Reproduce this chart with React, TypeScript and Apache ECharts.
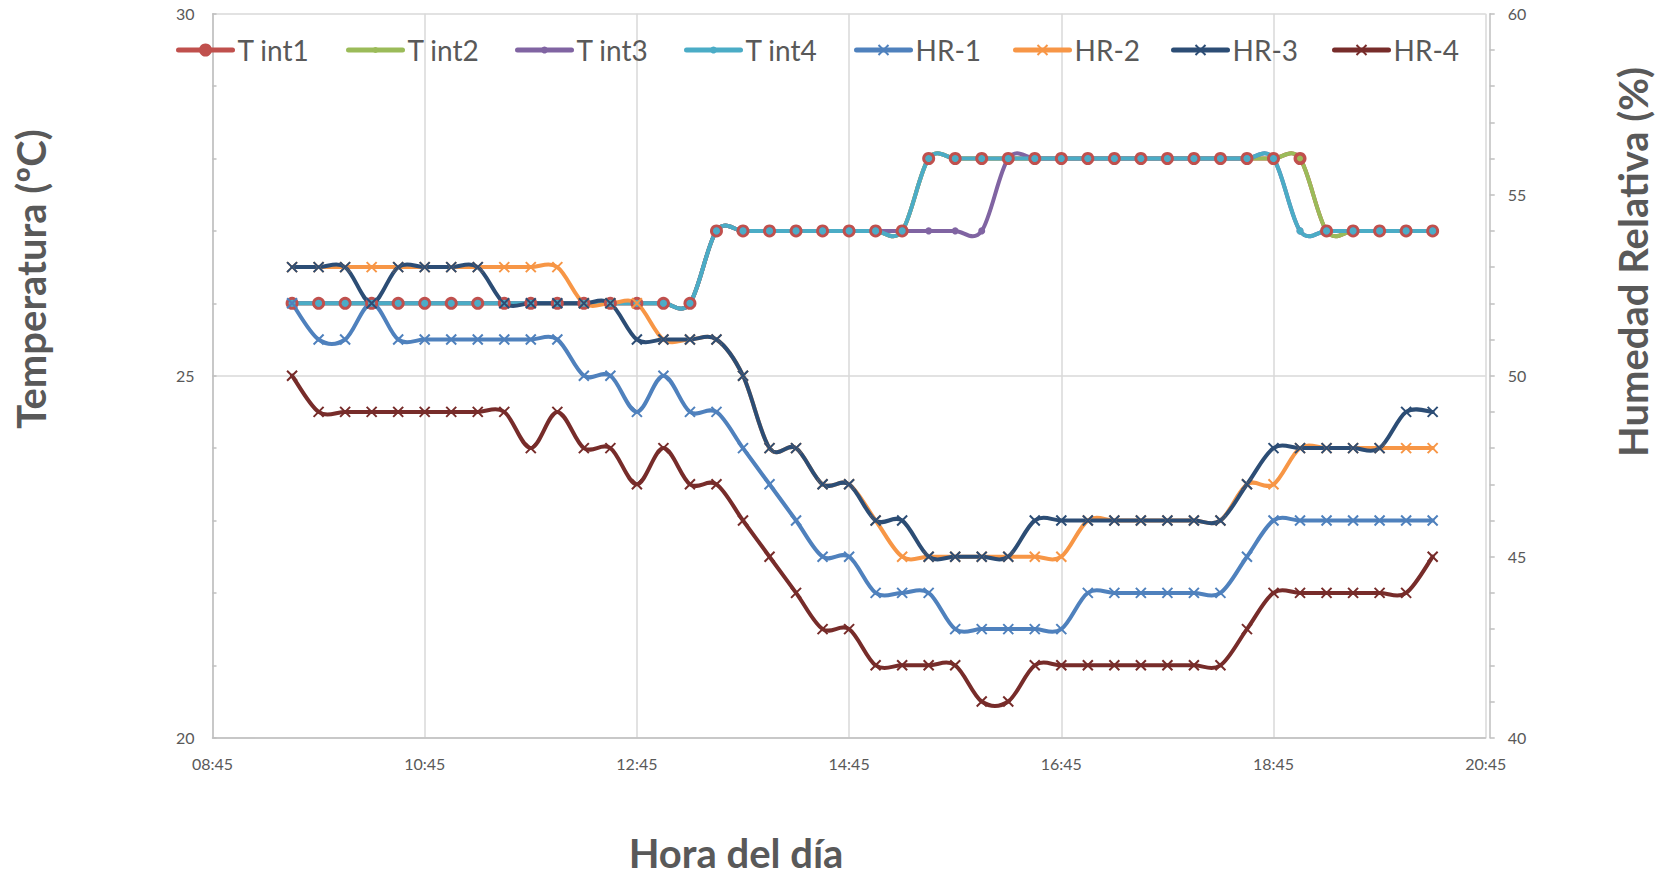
import { useEffect, useRef } from "react";
import * as echarts from "echarts";

// ---- data ----
const times = [
  "09:30", "09:45", "10:00", "10:15", "10:30", "10:45", "11:00", "11:15", "11:30", "11:45",
  "12:00", "12:15", "12:30", "12:45", "13:00", "13:15", "13:30", "13:45", "14:00", "14:15",
  "14:30", "14:45", "15:00", "15:15", "15:30", "15:45", "16:00", "16:15", "16:30", "16:45",
  "17:00", "17:15", "17:30", "17:45", "18:00", "18:15", "18:30", "18:45", "19:00", "19:15",
  "19:30", "19:45", "20:00", "20:15",
];

const tInt1 = [
  26, 26, 26, 26, 26, 26, 26, 26, 26, 26, 26, 26, 26, 26, 26, 26,
  27, 27, 27, 27, 27, 27, 27, 27,
  28, 28, 28, 28, 28, 28, 28, 28, 28, 28, 28, 28, 28, 28, 28,
  27, 27, 27, 27, 27,
];
const tInt2 = [
  26, 26, 26, 26, 26, 26, 26, 26, 26, 26, 26, 26, 26, 26, 26, 26,
  27, 27, 27, 27, 27, 27, 27, 27,
  28, 28, 28, 28, 28, 28, 28, 28, 28, 28, 28, 28, 28, 28, 28,
  27, 27, 27, 27, 27,
];
const tInt3 = [
  26, 26, 26, 26, 26, 26, 26, 26, 26, 26, 26, 26, 26, 26, 26, 26,
  27, 27, 27, 27, 27, 27, 27, 27, 27, 27, 27,
  28, 28, 28, 28, 28, 28, 28, 28, 28, 28, 28,
  27, 27, 27, 27, 27, 27,
];
const tInt4 = [
  26, 26, 26, 26, 26, 26, 26, 26, 26, 26, 26, 26, 26, 26, 26, 26,
  27, 27, 27, 27, 27, 27, 27, 27,
  28, 28, 28, 28, 28, 28, 28, 28, 28, 28, 28, 28, 28, 28,
  27, 27, 27, 27, 27, 27,
];

const hr1 = [
  52, 51, 51, 52, 51, 51, 51, 51, 51, 51, 51, 50, 50, 49, 50, 49, 49, 48, 47, 46,
  45, 45, 44, 44, 44, 43, 43, 43, 43, 43, 44, 44, 44, 44, 44, 44, 45, 46, 46, 46,
  46, 46, 46, 46,
];
const hr2 = [
  53, 53, 53, 53, 53, 53, 53, 53, 53, 53, 53, 52, 52, 52, 51, 51, 51, 50, 48, 48,
  47, 47, 46, 45, 45, 45, 45, 45, 45, 45, 46, 46, 46, 46, 46, 46, 47, 47, 48, 48,
  48, 48, 48, 48,
];
const hr3 = [
  53, 53, 53, 52, 53, 53, 53, 53, 52, 52, 52, 52, 52, 51, 51, 51, 51, 50, 48, 48,
  47, 47, 46, 46, 45, 45, 45, 45, 46, 46, 46, 46, 46, 46, 46, 46, 47, 48, 48, 48,
  48, 48, 49, 49,
];
const hr4 = [
  50, 49, 49, 49, 49, 49, 49, 49, 49, 48, 49, 48, 48, 47, 48, 47, 47, 46, 45, 44,
  43, 43, 42, 42, 42, 42, 41, 41, 42, 42, 42, 42, 42, 42, 42, 42, 43, 44, 44, 44,
  44, 44, 44, 45,
];

const xStart = "08:45";
const xEnd = "20:45";

// ---- helpers ----
const toMin = (t: string) => {
  const [h, m] = t.split(":").map(Number);
  return h * 60 + m;
};
const BASE = toMin(xStart);
const SPAN = toMin(xEnd) - BASE;
const fmt = (v: number) => {
  const t = BASE + v;
  const h = Math.floor(t / 60);
  const m = t % 60;
  return `${String(h).padStart(2, "0")}:${String(m).padStart(2, "0")}`;
};
const pts = (arr: number[]) => times.map((t, i) => [toMin(t) - BASE, arr[i]]);

// Excel-like smoothed line (Catmull-Rom as cubic Bezier) through pixel points
const splinePath = (p: number[][]) => {
  const f = (n: number) => n.toFixed(2);
  let d = `M${f(p[0][0])},${f(p[0][1])}`;
  for (let i = 0; i < p.length - 1; i++) {
    const p0 = p[i - 1] || p[i];
    const p1 = p[i];
    const p2 = p[i + 1];
    const p3 = p[i + 2] || p2;
    const c1x = p1[0] + (p2[0] - p0[0]) / 6;
    const c1y = p1[1] + (p2[1] - p0[1]) / 6;
    const c2x = p2[0] - (p3[0] - p1[0]) / 6;
    const c2y = p2[1] - (p3[1] - p1[1]) / 6;
    d += ` C${f(c1x)},${f(c1y)} ${f(c2x)},${f(c2y)} ${f(p2[0])},${f(p2[1])}`;
  }
  return d;
};

const FONT = "Lato";
const GREY = "#595959";
const X_PATH = "path://M0,0L10,10M10,0L0,10";
const LINE_W = 4;

type Def = { name: string; data: number[]; color: string; axis: number; symbol: string; size: number; legendLeft: number };
const defs: Def[] = [
  { name: "T int1", data: tInt1, color: "#C0504D", axis: 0, symbol: "circle", size: 13, legendLeft: 176 },
  { name: "T int2", data: tInt2, color: "#9BBB59", axis: 0, symbol: "circle", size: 6, legendLeft: 346 },
  { name: "T int3", data: tInt3, color: "#8064A2", axis: 0, symbol: "circle", size: 7, legendLeft: 515 },
  { name: "T int4", data: tInt4, color: "#4BACC6", axis: 0, symbol: "circle", size: 7, legendLeft: 684 },
  { name: "HR-1", data: hr1, color: "#4F81BD", axis: 1, symbol: X_PATH, size: 10, legendLeft: 854 },
  { name: "HR-2", data: hr2, color: "#F79646", axis: 1, symbol: X_PATH, size: 10, legendLeft: 1013 },
  { name: "HR-3", data: hr3, color: "#2C4D75", axis: 1, symbol: X_PATH, size: 10, legendLeft: 1171 },
  { name: "HR-4", data: hr4, color: "#772C2A", axis: 1, symbol: X_PATH, size: 10, legendLeft: 1332 },
];

export default function App() {
  const ref = useRef<HTMLDivElement>(null);

  useEffect(() => {
    if (!ref.current) return;
    const chart = echarts.init(ref.current, undefined, { renderer: "svg" });

    const series: any[] = [];
    defs.forEach((d) => {
      const points = pts(d.data);
      // smooth curve
      series.push({
        type: "custom",
        yAxisIndex: d.axis,
        data: points,
        silent: true,
        renderItem: (params: any, api: any) => {
          if (params.dataIndex !== 0) return null;
          const cs = points.map((pt) => api.coord(pt));
          return {
            type: "path",
            shape: { pathData: splinePath(cs) },
            style: { fill: "none", stroke: d.color, lineWidth: LINE_W, lineJoin: "round", lineCap: "round" },
            silent: true,
          };
        },
      });
      // markers (+ legend)
      series.push({
        name: d.name,
        type: "line",
        yAxisIndex: d.axis,
        data: points,
        symbol: d.symbol,
        symbolSize: d.size,
        showSymbol: true,
        lineStyle: { color: d.color, width: LINE_W, opacity: 0 },
        itemStyle:
          d.axis === 1
            ? { color: d.color, borderColor: d.color, borderWidth: 2 }
            : { color: d.color, borderWidth: 0 },
        emphasis: { disabled: true },
        silent: true,
      });
    });

    const legends = defs.map((d) => ({
      data: [d.name],
      left: d.legendLeft,
      top: 36,
      padding: 0,
      itemWidth: 54,
      itemHeight: d.size / 0.8,
      itemGap: 0,
      selectedMode: false,
      lineStyle: { color: d.color, width: 5, opacity: 1, cap: "round" },
      textStyle: { fontFamily: FONT, fontSize: 28, color: GREY },
    }));

    chart.setOption({
      animation: false,
      backgroundColor: "#ffffff",
      textStyle: { fontFamily: FONT },
      grid: { left: 212.5, right: 174.3, top: 13.7, bottom: 138.3 },
      legend: legends,
      xAxis: {
        type: "value",
        min: 0,
        max: SPAN,
        interval: 120,
        axisLine: { show: true, lineStyle: { color: "#BFBFBF", width: 1.5 } },
        axisTick: { show: false },
        splitLine: { show: true, lineStyle: { color: "#D9D9D9", width: 1.5 } },
        axisLabel: { formatter: (v: number) => fmt(v), color: GREY, fontSize: 16, fontFamily: FONT, margin: 18 },
      },
      yAxis: [
        {
          type: "value",
          min: 20,
          max: 30,
          interval: 5,
          axisLine: { show: true, lineStyle: { color: "#BFBFBF", width: 1.5 } },
          axisTick: { show: true, inside: true, length: 4, lineStyle: { color: "#BFBFBF", width: 1.5 } },
          minorTick: { show: true, splitNumber: 5, length: 4, lineStyle: { color: "#BFBFBF", width: 1.5 } },
          splitLine: { show: true, lineStyle: { color: "#D9D9D9", width: 1.5 } },
          axisLabel: { color: GREY, fontSize: 16, fontFamily: FONT, margin: 18 },
        },
        {
          type: "value",
          position: "right",
          offset: 4,
          min: 40,
          max: 60,
          interval: 5,
          axisLine: { show: true, lineStyle: { color: "#BFBFBF", width: 1.5 } },
          axisTick: { show: true, inside: false, length: 5, lineStyle: { color: "#BFBFBF", width: 1.5 } },
          minorTick: { show: true, splitNumber: 5, length: 5, lineStyle: { color: "#BFBFBF", width: 1.5 } },
          splitLine: { show: false },
          axisLabel: { color: GREY, fontSize: 16, fontFamily: FONT, margin: 18 },
        },
      ],
      graphic: [
        {
          type: "text",
          x: 31,
          y: 279,
          rotation: Math.PI / 2,
          style: { text: "Temperatura (ºC)", font: `bold 40px ${FONT}`, fill: GREY, textAlign: "center", textVerticalAlign: "middle" },
        },
        {
          type: "text",
          x: 1633,
          y: 262,
          rotation: Math.PI / 2,
          style: { text: "Humedad Relativa (%)", font: `bold 40px ${FONT}`, fill: GREY, textAlign: "center", textVerticalAlign: "middle" },
        },
        {
          type: "text",
          x: 736,
          y: 853,
          style: { text: "Hora del día", font: `bold 40px ${FONT}`, fill: GREY, textAlign: "center", textVerticalAlign: "middle" },
        },
      ],
      series,
    });

    return () => chart.dispose();
  }, []);

  return (
    <div
      ref={ref}
      style={{ position: "absolute", left: 0, top: 0, width: 1660, height: 876, background: "#fff" }}
    />
  );
}
